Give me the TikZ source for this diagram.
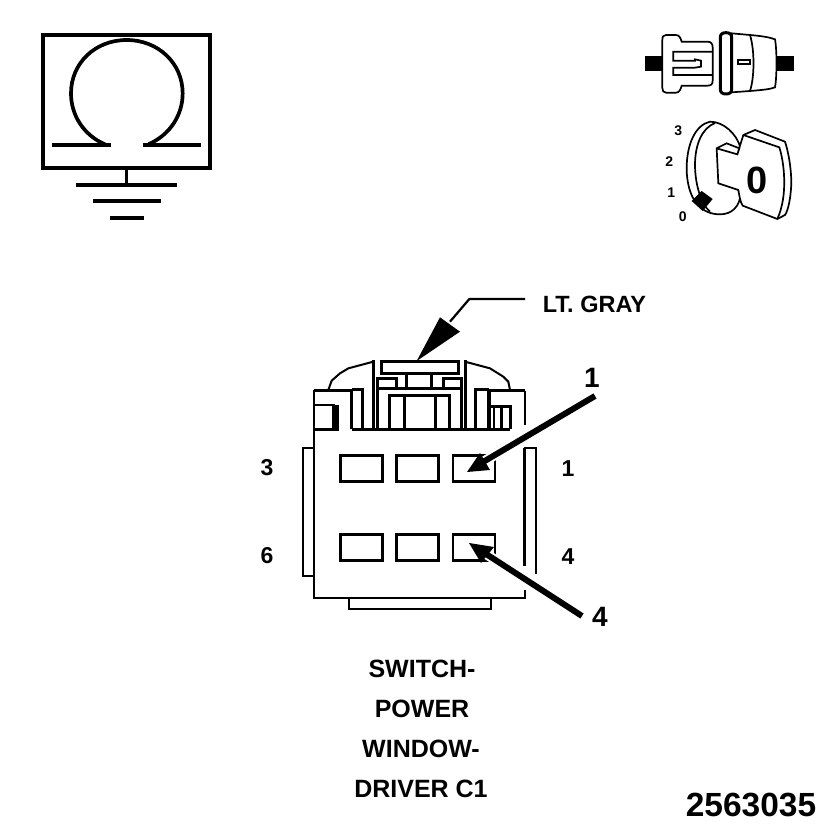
\documentclass[tikz,border=0pt]{standalone}
\usepackage{fontspec}
\setmainfont{Liberation Sans}
\tikzset{
 ln/.style={line width=#1,draw=black,line cap=butt,line join=miter},
 ln/.default=2pt,
 lbl/.style={inner sep=0pt,font=\fontsize{25}{28}\selectfont\bfseries},
 pin/.style={inner sep=0pt,font=\fontsize{23}{26}\selectfont\bfseries},
 big/.style={inner sep=0pt,font=\fontsize{28}{30}\selectfont\bfseries},
 key/.style={inner sep=0pt,font=\fontsize{14}{15}\selectfont\bfseries},
 cav/.style={ln=2.8pt}
}
\begin{document}
\begin{tikzpicture}[x=1pt,y=-1pt]
\useasboundingbox (0,0) rectangle (833,833);
\fill[white] (0,0) rectangle (833,833);
% ground symbol
\begin{scope}[shift={(30,25)},scale=1/3]
\draw[ln=3.7pt] (39,30) rectangle (540,430);
\draw[ln=4pt] (66,361) -- (243,361) (338,361) -- (513,361);
\draw[ln=3.7pt] (225,358) .. controls (160,330) and (123,270) .. (123,205) .. controls (123,115) and (195,45) .. (290,45) .. controls (385,45) and (458,115) .. (458,205) .. controls (458,270) and (420,330) .. (355,358);
\draw[ln=3pt] (291,430) -- (291,480);
\draw[ln=4pt] (138,480) -- (441,480) (189,529) -- (393,529) (240,578) -- (342,578);
\end{scope}
% connector icon
\begin{scope}[shift={(630,20)},scale=1/3]
\fill (45,108) rectangle (97,152);
\fill (440,108) rectangle (492,152);
\draw[ln=1.7pt,fill=white] (97,60) .. controls (97,50) and (100,45) .. (108,45) -- (138,45) .. controls (148,45) and (152,55) .. (155,65) -- (232,65) .. controls (244,65) and (248,72) .. (248,82) -- (248,182) .. controls (248,192) and (244,197) .. (232,197) -- (155,197) .. controls (152,208) and (148,218) .. (138,218) -- (108,218) .. controls (100,218) and (97,212) .. (97,204) -- cycle;
\draw[ln=1.7pt] (248,95) -- (130,95) -- (130,122) -- (195,122) -- (195,118) -- (213,122) -- (213,140) -- (195,143) -- (130,143) -- (130,165) -- (248,165);
\draw[ln=1.7pt,fill=white] (305,40) -- (360,45) .. controls (395,48) and (420,52) .. (435,58) .. controls (441,90) and (441,170) .. (435,202) .. controls (420,208) and (395,210) .. (360,213) -- (305,217) -- cycle;
\draw[ln=1.7pt] (360,45) .. controls (374,90) and (374,170) .. (360,213);
\draw[ln=1.7pt] (325,120) rectangle (360,133);
\draw[ln=3pt,fill=white,line join=round] (271,52) .. controls (271,42) and (278,38) .. (288,38) .. controls (298,38) and (305,42) .. (305,52) -- (305,208) .. controls (305,218) and (298,222) .. (288,222) .. controls (278,222) and (271,218) .. (271,208) -- cycle;
\end{scope}
% key icon
\begin{scope}[shift={(660,115)},scale=1/3]
\node[key] (k3) at (55,46) {3};
\node[key] (k2) at (28,140) {2};
\node[key] (k1) at (34,232) {1};
\node[key] (k0) at (68,306) {0};
\draw[ln=1.7pt,fill=white] (150,20) .. controls (105,30) and (80,90) .. (80,160) .. controls (80,205) and (92,245) .. (110,265) .. controls (130,290) and (155,298) .. (180,298) .. controls (215,298) and (240,275) .. (242,235) -- (242,100) .. controls (230,55) and (190,20) .. (150,20) -- cycle;
\draw[ln=1.7pt] (165,24) .. controls (125,40) and (105,90) .. (105,150) .. controls (105,200) and (120,265) .. (150,290);
\draw[ln=1.7pt,fill=white] (232,118) -- (250,60) -- (285,45) -- (375,80) .. controls (385,110) and (394,160) .. (394,205) .. controls (392,250) and (385,285) .. (375,300) -- (352,312) -- (248,272) .. controls (240,260) and (238,240) .. (235,225) -- (175,205) -- (170,100) -- (200,85) -- (238,100) -- (232,118) -- (170,100);
\draw[ln=1.7pt] (250,60) -- (358,97) .. controls (372,140) and (385,240) .. (352,312);
\fill (95,258) -- (125,228) -- (158,252) -- (128,288) -- cycle;
\node[inner sep=0pt,font=\fontsize{38}{40}\selectfont\bfseries] (key0) at (290,197) {0};
\end{scope}
% callout LT GRAY
\begin{scope}[shift={(400,285)},scale=1/3]
\coordinate (g1) at (375,42);
\coordinate (g2) at (208,42);
\coordinate (g3) at (150,110);
\draw[ln=2.2pt] (g1) -- (g2) -- (g3);
\fill (50,228) -- (120,97) -- (180,140) -- cycle;
\node[inner sep=0pt,anchor=west,font=\fontsize{23.5}{26}\selectfont\bfseries] (gray) at (428,58) {LT. GRAY};
\end{scope}
% connector top detail
\begin{scope}[shift={(290,340)},scale=1/3]
\draw[ln=2.7pt] (72,152) -- (170,152);
\draw[ln=2.7pt] (595,152) -- (705,152);
\draw[ln=2.7pt] (705,152) -- (705,255);
\draw[ln=2.7pt] (72,195) -- (135,195) (72,268) -- (147,268);
\fill (125,195) rectangle (147,268);
\draw[ln=3pt] (185,268) -- (660,268);
\draw[ln=3pt] (185,268) -- (185,150) -- (165,150) (185,148) -- (218,148) -- (218,268);
\draw[ln=3pt] (555,268) -- (555,148) -- (598,148);
\fill (590,148) rectangle (604,268);
\draw[ln=3pt] (600,198) -- (660,198) -- (660,268);
\draw[ln=2.5pt] (612,205) -- (612,268) (634,205) -- (634,268);
\draw[ln=2pt] (115,150) -- (125,122) -- (150,100) -- (175,85) -- (250,65);
\draw[ln=2pt] (525,65) -- (600,85) -- (640,110) -- (655,125) -- (660,150);
\draw[ln=3pt] (250,60) -- (250,268) (525,60) -- (525,268);
\draw[ln=3pt] (262,268) -- (262,115) -- (318,115) -- (318,144) (515,268) -- (515,115) -- (460,115) -- (460,144);
\draw[ln=3pt] (262,144) -- (515,144);
\draw[ln=3pt] (298,268) -- (298,166) -- (478,166) -- (478,268);
\draw[ln=3pt] (343,166) -- (343,268) (435,166) -- (435,268);
\draw[ln=3pt] (275,65) rectangle (505,99);
\draw[ln=3pt] (350,99) -- (350,144) (425,99) -- (425,144);
\end{scope}
% body
\draw[ln=2.7pt] (314,390) -- (314,598) -- (525,598) -- (525,590);
\draw[ln=3pt] (524.5,448) -- (524.5,566);
\draw[ln=2.7pt] (524,448) -- (536,448) -- (536,574);
\draw[ln=2.7pt] (314,448) -- (303,448) -- (303,576) -- (314,576);
\draw[ln=2.7pt] (349,598) -- (349,609) -- (491,609) -- (491,598);
% cavities
\foreach \xa/\ya/\xb/\yb/\nm in {340.5/455.5/382.5/481.5/c3,396.5/455.5/438.5/481.5/c2,453/455.5/495/481.5/c1,340.5/534.5/382.5/560.5/c6,396.5/534.5/438.5/560.5/c5,453/534.5/495/560.5/c4}
 \draw[cav] (\xa,\ya) rectangle (\xb,\yb) coordinate (\nm);
% pin labels
\node[pin] (p3) at (267,468) {3};
\node[pin] (p1) at (568,469) {1};
\node[pin] (p6) at (267,556) {6};
\node[pin] (p4) at (568,557) {4};
\node[big] (l1) at (592,378) {1};
\node[big] (l4) at (600,617) {4};
% arrows
\coordinate (a1s) at (595,396);
\coordinate (a1e) at (483,462);
\coordinate (a4s) at (582,616);
\coordinate (a4e) at (483,552);
\draw[white,line width=10pt] (a1s) -- (a1e);
\draw[white,line width=10pt] (a4s) -- (a4e);
\draw[ln=6pt] (a1s) -- (a1e);
\fill (467,472) -- (480,453) -- (490,470) -- cycle;
\draw[ln=6pt] (a4s) -- (a4e);
\fill (469,543) -- (494,547) -- (481,563) -- cycle;
% title
\node[lbl] (t1) at (422,669) {SWITCH-};
\node[lbl] (t2) at (422,709) {POWER};
\node[lbl] (t3) at (421,749) {WINDOW-};
\node[lbl] (t4) at (421,789) {DRIVER C1};
\node[inner sep=0pt,font=\fontsize{33.5}{35}\selectfont\bfseries] (num) at (751,805) {2563035};
\end{tikzpicture}
\end{document}
